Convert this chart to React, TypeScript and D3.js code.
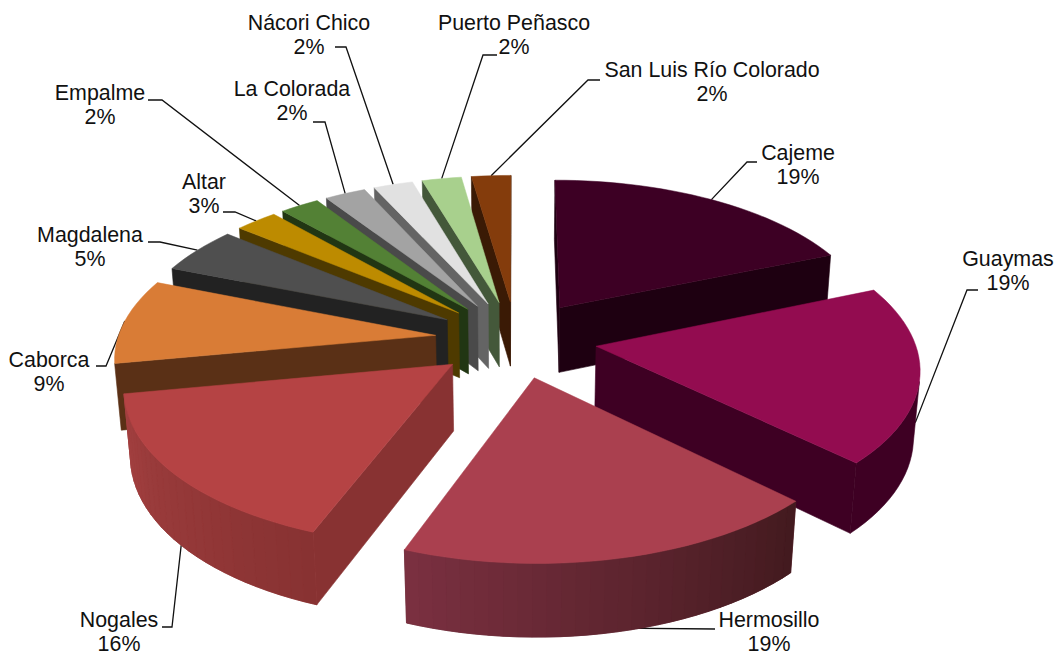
import * as d3 from "d3";

const categories = ["Cajeme", "Guaymas", "Hermosillo", "Nogales", "Caborca", "Magdalena", "Altar", "Empalme", "La Colorada", "Nácori Chico", "Puerto Peñasco", "San Luis Río Colorado"];
const values = [18.7, 18.5, 18.5, 16.3, 8.9, 4.9, 2.5, 2.3, 2.4, 2.3, 2.3, 2.3];

const topColors = ["#3d0024", "#930c50", "#aa404f", "#b54344", "#d97c36", "#4f4f4f", "#bd8b00", "#538135", "#a3a3a3", "#e1e1e1", "#a8d08d", "#843c0c"];
const sideColors = ["#1e0011", "#3e0023", "#7a3040", "#883232", "#5a3016", "#222222", "#4e3a00", "#213613", "#4a4a4a", "#646464", "#44583a", "#3a1a05"];
const rimStartColors = ["#1e0011", "#3e0023", "#431a1f", "#883232", "#5a3016", "#222222", "#4e3a00", "#213613", "#4a4a4a", "#646464", "#44583a", "#3a1a05"];
const rimEndColors = ["#1e0011", "#3e0023", "#7a3040", "#a34040", "#5a3016", "#222222", "#4e3a00", "#213613", "#4a4a4a", "#646464", "#44583a", "#3a1a05"];

// label centre, then leader: depth down the wall of the start point, then the elbow and end
const labelLayout = [
  { x: 798, y: 153, z: 0, pts: [[747, 162], [757, 162]] },
  { x: 1008, y: 259, z: 0.7, pts: [[967, 290], [978, 290]] },
  { x: 769, y: 620, z: 0.95, pts: [[715, 629]] },
  { x: 119, y: 620, z: 1, pts: [[172, 627], [162, 627]] },
  { x: 49, y: 360, z: 0, pts: [[106, 366], [96, 366]] },
  { x: 90, y: 235, z: 0, pts: [[160, 242], [148, 242]] },
  { x: 204, y: 182, z: 0, pts: [[235, 212], [223, 212]] },
  { x: 100, y: 93, z: 0, pts: [[162, 100], [148, 100]] },
  { x: 292, y: 89, z: 0, pts: [[325, 122], [313, 122]] },
  { x: 309, y: 23, z: 0, pts: [[346, 47], [335, 47]] },
  { x: 514, y: 23, z: 0, pts: [[483, 55], [497, 55]] },
  { x: 712, y: 70, z: 0, pts: [[588, 80], [600, 80]] },
];

const width = 1057;
const height = 656;
const cx = 516;
const cy = 339;
const radius = 318;
const explode = 81;
const thickness = 76;
const tilt = (28.4 * Math.PI) / 180;
const camera = 2200;

// world: x right, y away from the viewer, z up
function project(x: number, y: number, z: number): [number, number] {
  const v = y * Math.sin(tilt) + z * Math.cos(tilt);
  const w = y * Math.cos(tilt) - z * Math.sin(tilt);
  const s = camera / (camera + w);
  return [cx + x * s, cy - v * s];
}

const area = (p: [number, number][]) => d3.polygonArea(p);
const line = d3.line();
const path = (p: [number, number][]) => line(p) + "Z";

const arcs = d3.pie<number>().sort(null)(values);

export default function App() {
  const slices = arcs.map((a) => {
    const i = a.index;
    const mid = (a.startAngle + a.endAngle) / 2;
    const ox = explode * Math.sin(mid);
    const oy = explode * Math.cos(mid);
    const steps = Math.max(4, Math.ceil((a.endAngle - a.startAngle) / 0.04));
    const angles = d3.range(steps + 1).map((k) => a.startAngle + ((a.endAngle - a.startAngle) * k) / steps);
    const rim = (t: number, z: number) => project(ox + radius * Math.sin(t), oy + radius * Math.cos(t), z);
    const apex = (z: number) => project(ox, oy, z);

    const top: [number, number][] = [apex(0), ...angles.map((t) => rim(t, 0))];
    const topArea = area(top);
    const facing = (p: [number, number][]) => area(p) * topArea < 0;

    const faces: { d: string; fill: string }[] = [];
    const wallA: [number, number][] = [apex(0), rim(a.startAngle, 0), rim(a.startAngle, -thickness), apex(-thickness)];
    const wallB: [number, number][] = [rim(a.endAngle, 0), apex(0), apex(-thickness), rim(a.endAngle, -thickness)];
    if (facing(wallA)) faces.push({ d: path(wallA), fill: sideColors[i] });
    if (facing(wallB)) faces.push({ d: path(wallB), fill: sideColors[i] });

    // whole rim wall underneath so the facets leave no seams
    const shade = d3.interpolateRgb(rimStartColors[i], rimEndColors[i]);
    const front = d3.pairs(angles).filter(([t0, t1]) => facing([rim(t0, 0), rim(t1, 0), rim(t1, -thickness), rim(t0, -thickness)]));
    if (front.length) {
      const ts = [front[0][0], ...front.map((f) => f[1])];
      const base: [number, number][] = [...ts.map((t) => rim(t, 0)), ...[...ts].reverse().map((t) => rim(t, -thickness))];
      faces.push({ d: path(base), fill: shade(0.5) });
    }
    d3.pairs(angles).forEach(([t0, t1], k) => {
      const wall: [number, number][] = [rim(t0, 0), rim(t1, 0), rim(t1, -thickness), rim(t0, -thickness)];
      if (facing(wall) && rimStartColors[i] !== rimEndColors[i]) faces.push({ d: path(wall), fill: shade(k / (steps - 1)) });
    });

    const lay = labelLayout[i];
    const start = rim(mid, -thickness * lay.z);
    return { i, mid, faces, top: path(top), leader: line([start, ...(lay.pts as [number, number][])])! };
  });

  // far slices first so the near ones cover them
  const order = [...slices].sort((p, q) => Math.cos(q.mid) - Math.cos(p.mid));

  return (
    <svg width={width} height={height} style={{ position: "absolute", left: 0, top: 0, background: "#fff" }}>
      {slices.map((s) => (
        <path key={s.i} d={s.leader} fill="none" stroke="#111" strokeWidth={1.3} />
      ))}
      {order.map((s) => (
        <g key={s.i}>
          {s.faces.map((f, k) => (
            <path key={k} d={f.d} fill={f.fill} stroke={f.fill} strokeWidth={0.6} />
          ))}
          <path d={s.top} fill={topColors[s.i]} stroke={topColors[s.i]} strokeWidth={0.5} />
        </g>
      ))}
      <g fontFamily="'Liberation Sans', Arial, sans-serif" fontSize={21.4} fill="#111" textAnchor="middle">
        {categories.map((c, i) => (
          <text key={c}>
            <tspan x={labelLayout[i].x} y={labelLayout[i].y + 7}>{c}</tspan>
            <tspan x={labelLayout[i].x} y={labelLayout[i].y + 31}>{Math.round(values[i])}%</tspan>
          </text>
        ))}
      </g>
    </svg>
  );
}
